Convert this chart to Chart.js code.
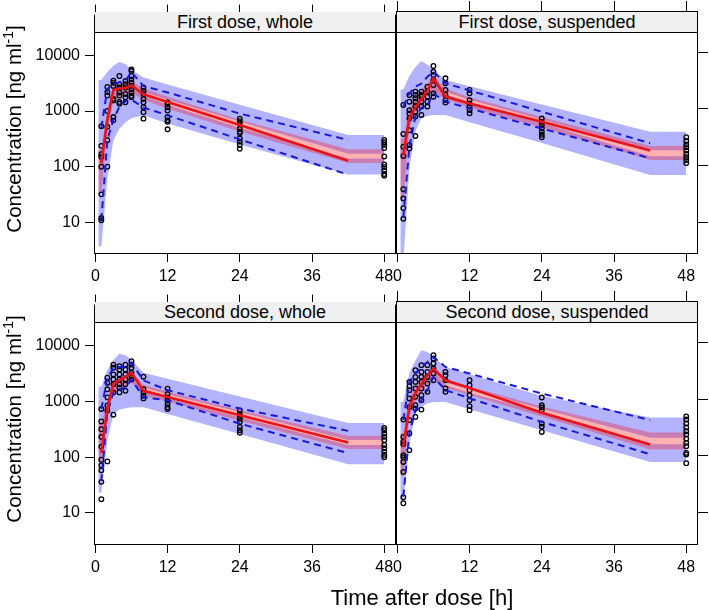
<!DOCTYPE html>
<html><head><meta charset="utf-8">
<script src="https://cdn.jsdelivr.net/npm/chart.js@4/dist/chart.umd.min.js"></script>
<style>
html,body{margin:0;padding:0;background:#fff;}
body{width:709px;height:610px;position:relative;overflow:hidden;font-family:"Liberation Sans",Arial,sans-serif;color:#000;}
canvas{position:absolute;}
.strip{position:absolute;height:20px;background:#f0f0f0;border-bottom:1px solid #000;text-align:center;font-size:18px;line-height:21px;white-space:nowrap;}
.ytitle{position:absolute;width:320px;height:24px;line-height:24px;text-align:center;font-size:20.5px;transform:rotate(-90deg);white-space:nowrap;}
.ytitle sup{font-size:0.68em;vertical-align:0.55em;line-height:0;}
.xtitle{position:absolute;width:400px;height:26px;line-height:26px;text-align:center;font-size:22px;white-space:nowrap;}
</style>
</head><body>
<canvas id="cTL" width="410" height="290" style="left:0;top:0;"></canvas>
<canvas id="cTR" width="329" height="290" style="left:380px;top:0;"></canvas>
<canvas id="cBL" width="410" height="320" style="left:0;top:290px;"></canvas>
<canvas id="cBR" width="329" height="320" style="left:380px;top:290px;"></canvas>
<div class="strip" id="sTL" style="left:95px;top:12px;width:300px;"></div>
<div class="strip" id="sTR" style="left:397px;top:12px;width:300px;"></div>
<div class="strip" id="sBL" style="left:95px;top:302px;width:300px;"></div>
<div class="strip" id="sBR" style="left:397px;top:302px;width:300px;"></div>
<div class="ytitle" style="left:-146px;top:117px;">Concentration [ng ml<sup>-1</sup>]</div>
<div class="ytitle" style="left:-146px;top:407px;">Concentration [ng ml<sup>-1</sup>]</div>
<div class="xtitle" id="xt" style="left:222px;top:585px;"></div>
<script>
// ---- data ----
const panelTitles = ["First dose, whole", "First dose, suspended", "Second dose, whole", "Second dose, suspended"];
const xTicks = [0, 12, 24, 36, 48];
const yTicks = [10, 100, 1000, 10000];
const xAxisTitle = "Time after dose [h]";
// band time points (bin edges at the ends) and observed-percentile time points
const BT = [0.5, 1, 2, 3, 4, 5, 6, 8, 12, 24, 42, 48];
const LT = [1, 2, 3, 4, 5, 6, 8, 12, 24, 42];
const obsTimes = [1, 2, 3, 4, 5, 6, 8, 12, 24, 48];

// First dose, whole
const tlP95Hi = [3600, 3600, 5000, 6500, 7600, 7000, 5500, 4000, 3000, 1300, 370, 370];
const tlP95Lo = [150, 150, 1000, 2300, 2700, 2900, 3000, 2200, 1600, 650, 171, 171];
const tlMedHi = [200, 200, 1100, 2900, 3100, 3300, 3400, 2600, 1800, 700, 206, 206];
const tlMedLo = [35, 35, 400, 1500, 1800, 2000, 2100, 1600, 1100, 430, 117, 117];
const tlP5Hi  = [250, 250, 1200, 2600, 3000, 3200, 3300, 1900, 1300, 500, 140, 140];
const tlP5Lo  = [3.7, 3.7, 60, 300, 480, 620, 750, 830, 600, 250, 72.7, 72.7];
const tlObsHi  = [500, 2500, 3000, 3300, 3500, 5000, 2800, 2150, 900, 303];
const tlObsMed = [117, 700, 2400, 2500, 2600, 2900, 2000, 1450, 560, 128];
const tlObsLo  = [11, 300, 700, 1200, 1500, 1600, 1150, 840, 310, 72];
const tlObs = [
  [535, 237, 168, 150, 100, 32, 12, 11],
  [2700, 2200, 1900, 1000, 520, 300, 100],
  [3500, 3200, 2800, 1650, 1550, 780, 680],
  [4250, 3000, 2650, 2150, 1900, 1450, 1350],
  [3470, 3030, 2640, 2020, 1760, 1430],
  [5560, 5210, 4250, 3700, 3240, 2830, 2470, 2160, 1880, 1760],
  [2640, 2300, 2020, 1640, 1430, 1170, 950, 730],
  [1430, 1340, 1170, 1020, 780, 680, 640, 470],
  [730, 660, 590, 480, 424, 400, 322, 282, 247, 210],
  [303, 276, 247, 216, 153, 110, 99, 86, 74, 69]
];

// First dose, suspended
const trP95Hi = [2200, 2200, 3800, 5500, 7000, 6000, 4900, 3250, 2500, 1200, 395, 395];
const trP95Lo = [150, 150, 900, 1500, 2000, 2600, 3200, 2000, 1450, 650, 185, 185];
const trMedHi = [300, 300, 1000, 1600, 2200, 2800, 3800, 2300, 1600, 720, 220, 220];
const trMedLo = [25, 25, 450, 800, 1200, 1600, 2000, 1500, 1050, 470, 125, 125];
const trP5Hi  = [200, 200, 1000, 1700, 2300, 2900, 3500, 1800, 1300, 560, 145, 145];
const trP5Lo  = [2, 2, 90, 400, 680, 750, 780, 780, 580, 250, 68, 68];
const trObsHi  = [1100, 1880, 2470, 2800, 3700, 4540, 2830, 2115, 890, 247];
const trObsMed = [150, 700, 1050, 1500, 2100, 3450, 1650, 1250, 590, 183];
const trObsLo  = [12, 215, 730, 1040, 1170, 1880, 1340, 1020, 450, 134];
const trObs = [
  [1170, 360, 215, 147, 38, 26, 17.6, 11.4],
  [1760, 1340, 950, 830, 680, 420, 230, 200],
  [2020, 1760, 1540, 1340, 1100, 890, 730, 332],
  [2020, 1760, 1640, 1340, 1100, 780],
  [2470, 2020, 1640, 1340, 1100],
  [5730, 4540, 3970, 3240, 2640, 1880, 1640],
  [3470, 2830, 2160, 1760, 1430, 1290],
  [2160, 1880, 1430, 1250, 1100, 950, 835],
  [680, 590, 520, 455, 395, 348, 315],
  [315, 270, 235, 210, 183, 160, 140, 125, 110]
];

// Second dose, whole
const blP95Hi = [1860, 1860, 3700, 5600, 7200, 6800, 5600, 3300, 2570, 1230, 411, 411];
const blP95Lo = [130, 130, 900, 2000, 2300, 2600, 3000, 1800, 1350, 650, 203, 203];
const blMedHi = [400, 400, 1100, 2400, 2700, 3000, 3500, 2000, 1500, 700, 242, 242];
const blMedLo = [85, 85, 500, 1400, 1700, 1900, 2200, 1300, 1000, 450, 141, 141];
const blP5Hi  = [150, 150, 1000, 2200, 2500, 2800, 3200, 1500, 1150, 520, 166, 166];
const blP5Lo  = [23, 23, 200, 600, 720, 760, 790, 790, 600, 262, 75, 75];
const blObsHi  = [736, 2680, 4040, 4200, 4200, 4940, 2400, 1600, 750, 297];
const blObsMed = [118, 740, 2100, 2400, 2800, 3300, 1560, 1210, 570, 184];
const blObsLo  = [37, 645, 1460, 1650, 1780, 2500, 1190, 1055, 400, 118];
const blObs = [
  [736, 440, 318, 232, 155, 90, 71, 58, 36, 17.6],
  [2680, 2180, 1660, 1190, 850, 690, 84],
  [4610, 4040, 3070, 2500, 2040, 1460, 580],
  [4320, 3760, 3070, 2500, 2040, 1780, 1460],
  [4610, 3760, 3070, 2500, 2040, 1560],
  [5300, 4610, 4040, 3290, 2880, 2500],
  [2800, 1660, 1460, 1270, 1140],
  [1710, 1360, 1190, 1040, 905, 790, 736],
  [690, 600, 550, 490, 430, 350, 305, 275],
  [335, 305, 265, 232, 202, 166, 145, 126, 110, 100]
];

// Second dose, suspended
const brP95Hi = [900, 900, 2900, 4900, 7400, 6900, 5650, 3760, 2800, 1150, 480, 480];
const brP95Lo = [150, 150, 900, 1500, 2100, 2600, 3100, 2000, 1500, 680, 210, 210];
const brMedHi = [250, 250, 1100, 1800, 2500, 3000, 3600, 2300, 1700, 750, 260, 260];
const brMedLo = [45, 45, 500, 900, 1300, 1800, 2300, 1600, 1200, 500, 130, 130];
const brP5Hi  = [180, 180, 1000, 1600, 2300, 2800, 3300, 1800, 1300, 600, 160, 160];
const brP5Lo  = [16, 16, 160, 560, 740, 850, 900, 900, 670, 283, 78, 78];
const brObsHi  = [430, 2040, 2870, 3760, 4610, 5650, 3760, 2870, 1270, 430];
const brObsMed = [144, 740, 1270, 1900, 2680, 3500, 2180, 1590, 580, 159];
const brObsLo  = [19, 250, 645, 970, 1460, 2500, 1460, 1050, 400, 107];
const brObs = [
  [440, 217, 178, 160, 103, 95, 78, 52, 18.5, 14.5],
  [2040, 1710, 1460, 1040, 736, 430, 250, 126],
  [3290, 2500, 2040, 1560, 1110, 790, 690, 490],
  [4040, 3070, 2500, 2040, 1560, 1190, 970, 660],
  [4040, 3070, 2500, 1910, 1360],
  [6050, 5300, 4320, 3520, 2880, 2190],
  [3070, 2680, 2190, 1560, 1360],
  [2190, 1780, 1460, 1190, 970, 760, 645],
  [1080, 790, 720, 645, 375, 330, 265],
  [500, 440, 375, 318, 273, 240, 202, 170, 148, 113, 106, 74]
];

// ---- drawing ----
const FONT = '"Liberation Sans", Arial, sans-serif';
const BLUE = 'rgb(179,179,255)';
const PINK = 'rgba(255,0,0,0.3)';
const RED = '#e8141b';
const DBLUE = '#1a1ad6';
const XMIN = -0.22, XMAX = 49.95;

function pts(xs, ys) { return xs.map((x, i) => ({x: x, y: ys[i]})); }
function obsPts(cols) {
  const out = [];
  obsTimes.forEach((t, i) => cols[i].forEach(c => out.push({x: t, y: c})));
  return out;
}
const boxPlugin = {
  id: 'box',
  afterDraw(chart) {
    const a = chart.chartArea, c = chart.ctx;
    c.save();
    c.strokeStyle = '#000'; c.lineWidth = 1;
    c.strokeRect(a.left + 0.5, a.top + 0.5, a.right - a.left - 1, a.bottom - a.top - 1);
    c.restore();
  }
};

function buildPanel(id, p, o) {
  const line = (data, color, w, dash) => ({data, borderColor: color, borderWidth: w, borderDash: dash || [], pointRadius: 0, fill: false, tension: 0});
  const band = (data, col, target) => ({data, borderWidth: 0, borderColor: 'rgba(0,0,0,0)', pointRadius: 0, fill: target, backgroundColor: col, tension: 0});
  const datasets = [
    line(pts(LT, p.med), RED, 2.6),
    line(pts(LT, p.hi), DBLUE, 2, [7, 5]),
    line(pts(LT, p.lo), DBLUE, 2, [7, 5]),
    {data: obsPts(p.obs), showLine: false, pointRadius: 2.3, pointBorderWidth: 1.3, pointBorderColor: '#000', pointBackgroundColor: 'rgba(0,0,0,0)', borderColor: '#000', backgroundColor: 'rgba(0,0,0,0)', fill: false},
    band(pts(BT, p.medHi), PINK, '+1'),
    band(pts(BT, p.medLo), PINK, false),
    band(pts(BT, p.p95Hi), BLUE, '+1'),
    band(pts(BT, p.p95Lo), BLUE, false),
    band(pts(BT, p.p5Hi), BLUE, '+1'),
    band(pts(BT, p.p5Lo), BLUE, false)
  ];
  const setX = s => { s.ticks = xTicks.map(v => ({value: v})); };
  new Chart(document.getElementById(id), {
    type: 'line',
    data: {datasets},
    plugins: [boxPlugin],
    options: {
      responsive: false, animation: false, devicePixelRatio: 1,
      layout: {padding: o.pad},
      plugins: {legend: {display: false}, tooltip: {enabled: false}, title: {display: false}},
      events: [],
      scales: {
        x: {
          type: 'linear', position: 'bottom', min: XMIN, max: XMAX,
          afterBuildTicks: setX, afterFit: s => { s.height = o.xbH; },
          grid: {drawOnChartArea: false, drawTicks: true, tickLength: 8, color: '#000', lineWidth: 1},
          border: {display: false},
          ticks: {autoSkip: false, maxRotation: 0, padding: 5, color: '#000', font: {family: FONT, size: 16}, callback: v => String(v)}
        },
        xTop: {
          type: 'linear', position: 'top', min: XMIN, max: XMAX,
          afterBuildTicks: setX, afterFit: s => { s.height = 11; },
          grid: {drawOnChartArea: false, drawTicks: true, tickLength: 10, color: '#000', lineWidth: 1},
          border: {display: false},
          ticks: {display: false}
        },
        y: {
          type: 'logarithmic', position: o.yPos, min: o.ymin, max: o.ymax,
          afterBuildTicks: s => { s.ticks = yTicks.map(v => ({value: v})); },
          afterFit: s => { s.width = o.yW; },
          grid: {drawOnChartArea: false, drawTicks: true, tickLength: o.yPos === 'left' ? 9 : 10, color: '#000', lineWidth: 1},
          border: {display: false},
          ticks: {display: o.yPos === 'left', padding: 5, color: '#000', font: {family: FONT, size: 16}, callback: v => String(v)}
        }
      }
    }
  });
}

const TOP_Y = {ymin: 2.72, ymax: 53700};
const BOT_Y = {ymin: 2.64, ymax: 55300};
buildPanel('cTL', {p95Hi: tlP95Hi, p95Lo: tlP95Lo, medHi: tlMedHi, medLo: tlMedLo, p5Hi: tlP5Hi, p5Lo: tlP5Lo, hi: tlObsHi, med: tlObsMed, lo: tlObsLo, obs: tlObs},
  Object.assign({pad: {left: 0, right: 14, top: 0, bottom: 0}, yPos: 'left', yW: 94, xbH: 36}, TOP_Y));
buildPanel('cTR', {p95Hi: trP95Hi, p95Lo: trP95Lo, medHi: trMedHi, medLo: trMedLo, p5Hi: trP5Hi, p5Lo: trP5Lo, hi: trObsHi, med: trObsMed, lo: trObsLo, obs: trObs},
  Object.assign({pad: {left: 16, right: 0, top: 0, bottom: 0}, yPos: 'right', yW: 11, xbH: 36}, TOP_Y));
buildPanel('cBL', {p95Hi: blP95Hi, p95Lo: blP95Lo, medHi: blMedHi, medLo: blMedLo, p5Hi: blP5Hi, p5Lo: blP5Lo, hi: blObsHi, med: blObsMed, lo: blObsLo, obs: blObs},
  Object.assign({pad: {left: 0, right: 14, top: 0, bottom: 0}, yPos: 'left', yW: 94, xbH: 65}, BOT_Y));
buildPanel('cBR', {p95Hi: brP95Hi, p95Lo: brP95Lo, medHi: brMedHi, medLo: brMedLo, p5Hi: brP5Hi, p5Lo: brP5Lo, hi: brObsHi, med: brObsMed, lo: brObsLo, obs: brObs},
  Object.assign({pad: {left: 16, right: 0, top: 0, bottom: 0}, yPos: 'right', yW: 11, xbH: 65}, BOT_Y));

['sTL', 'sTR', 'sBL', 'sBR'].forEach((id, i) => { document.getElementById(id).textContent = panelTitles[i]; });
document.getElementById('xt').textContent = xAxisTitle;
</script>
</body></html>
